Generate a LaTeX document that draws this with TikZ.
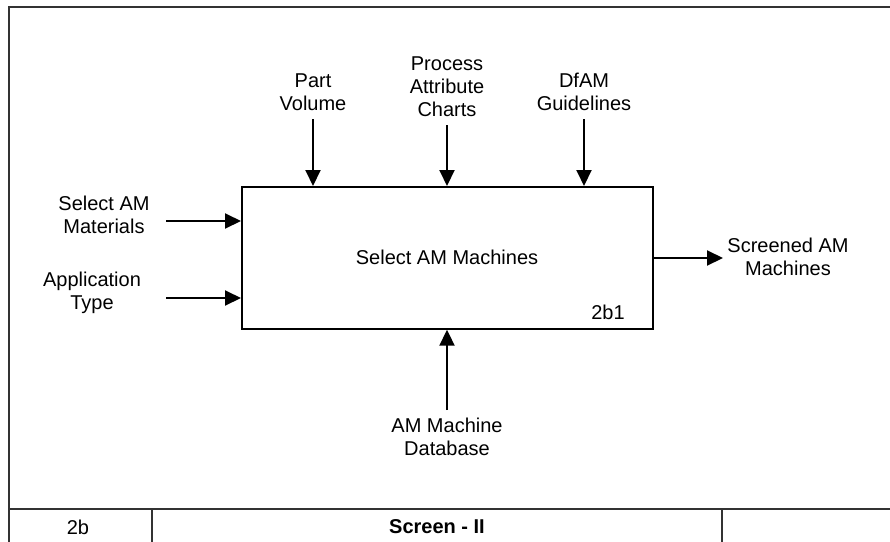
\documentclass[tikz,border=0pt]{standalone}
\usepackage{fontspec}
\setmainfont{Liberation Sans}
\usetikzlibrary{arrows.meta}
\begin{document}
\begin{tikzpicture}[x=1pt,y=-1pt,
  lbl/.style={align=center,font=\fontsize{20}{23}\selectfont,inner sep=0pt},
  frame/.style={draw=black!80,line width=2pt},
  flow/.style={line width=2pt,-{Triangle[length=16pt,width=15pt]}}]
\useasboundingbox (0,0) rectangle (890,541);
% outer frame and title bar
\draw[frame] (8.5,560) -- (8.5,7) -- (900,7);
\draw[frame] (8.5,509) -- (900,509);
\draw[frame] (152,509) -- (152,560);
\draw[frame] (722,509) -- (722,560);
\node[lbl] (num) at (78,527) {2b};
\node[lbl,font=\fontsize{20}{23}\selectfont\bfseries] (title) at (437,527) {Screen - II};
% activity box
\node[draw,line width=1.7pt,minimum width=411pt,minimum height=142pt,inner sep=0pt,anchor=north west] (box) at (241,186) {};
\node[lbl] (act) at (447,257) {Select AM Machines};
\node[lbl] (id) at (608,312) {2b1};
% labels
\node[lbl] (pv) at (313,92) {Part\\Volume};
\node[lbl] (pac) at (447,87) {Process\\Attribute\\Charts};
\node[lbl] (dfam) at (584,92) {DfAM\\Guidelines};
\node[lbl] (sam) at (104,215) {Select AM\\Materials};
\node[lbl] (app) at (92,293) {Application\\Type};
\node[lbl] (scr) at (788,257) {Screened AM\\Machines};
\node[lbl] (db) at (447,437) {AM Machine\\Database};
% arrow ends
\coordinate (pvs) at (313,119);
\coordinate (pacs) at (447,125);
\coordinate (dfs) at (584,119);
\coordinate (sams) at (166,221);
\coordinate (apps) at (166,298);
\coordinate (scre) at (723,258);
\coordinate (dbs) at (447,410);
\draw[flow] (pvs) -- (pvs |- box.north);
\draw[flow] (pacs) -- (pacs |- box.north);
\draw[flow] (dfs) -- (dfs |- box.north);
\draw[flow] (sams) -- (sams -| box.west);
\draw[flow] (apps) -- (apps -| box.west);
\draw[flow] (scre -| box.east) -- (scre);
\draw[flow] (dbs) -- (dbs |- box.south);
\end{tikzpicture}
\end{document}
